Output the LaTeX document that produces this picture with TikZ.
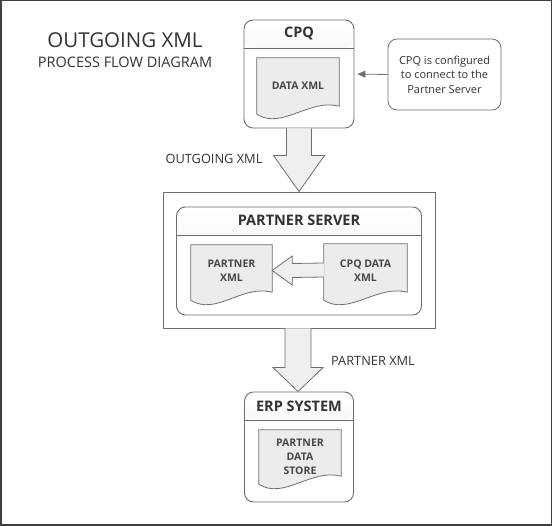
\documentclass[tikz,border=0pt]{standalone}
\usepackage{fontspec}
\setmainfont{Open Sans}
\usetikzlibrary{calc,arrows.meta}

\definecolor{textgray}{HTML}{333333}
\definecolor{linegray}{HTML}{6E6E6E}
\definecolor{docfill}{HTML}{ECECEC}
\definecolor{arrowfill}{HTML}{EFEFEF}

\tikzstyle{every node} = [text=textgray, inner sep=0pt, font=\fontsize{11}{14.5}\selectfont]
\tikzstyle{container} = [draw=linegray, line width=0.9pt, rounded corners=9pt, fill=white,
    path picture={
        \shade[top color=white, bottom color=black!9] (path picture bounding box.north west) rectangle ([yshift=-28pt]path picture bounding box.north east);
        \draw[linegray, line width=0.9pt] ([yshift=-28pt]path picture bounding box.north west) -- ([yshift=-28pt]path picture bounding box.north east);
    }]
\tikzstyle{boxtitle} = [font=\bfseries\fontsize{14.5}{17}\selectfont]
\tikzstyle{docbox} = [draw=none]
\tikzstyle{docline} = [draw=linegray, fill=docfill, line width=0.8pt]
\tikzstyle{doctext} = [text=black!72, font=\bfseries\fontsize{10.5}{14}\selectfont, align=center]
\tikzstyle{note} = [draw=linegray, line width=0.8pt, rounded corners=9pt, fill=white, align=center]
\tikzstyle{bigarrow} = [draw=linegray, fill=arrowfill, line width=0.8pt, line join=miter]
\tikzstyle{pointer} = [draw=linegray, line width=0.8pt, -{Triangle[length=8pt,width=7pt]}, shorten >=3pt]
\tikzstyle{flowlabel} = [font=\fontsize{12.8}{15}\selectfont]

% document sheet with a wavy lower edge
\newcommand{\docshape}[1]{%
    \draw[docline] (#1.south west) -- (#1.north west) -- (#1.north east) -- ($(#1.south east)+(0,-8)$)
        .. controls +(-30,-8) and +(25,16) .. (#1.south west) -- cycle;}

\begin{document}
\begin{tikzpicture}[x=1pt, y=-1pt]
    \useasboundingbox (0,0) rectangle (552,526);
    \draw[black!75, line width=1.5pt] (0.75,0.75) rectangle (551.25,525.25);

    % Heading
    \node[font=\fontsize{20.5}{24}\selectfont] (heading) at (125,40) {OUTGOING XML};
    \node[font=\fontsize{14.5}{17}\selectfont] (subheading) at (125,62) {PROCESS FLOW DIAGRAM};

    % CPQ
    \node[container, minimum width=110, minimum height=108] (cpq) at (299,74) {};
    \node[boxtitle] (cpqtitle) at ($(cpq.north)+(0,14)$) {CPQ};
    \node[docbox, minimum width=82, minimum height=56] (dataxml) at (298,86) {};
    \docshape{dataxml}
    \node[doctext] (dataxmltext) at (dataxml) {DATA XML};

    \node[note, minimum width=113, minimum height=71] (note) at (444.5,74.5) {CPQ is configured\\to connect to the\\Partner Server};
    \draw[pointer] (note.west) -- (cpq.east);

    % Partner server
    \node[draw=linegray, line width=0.9pt, minimum width=272, minimum height=136] (frame) at (299,260) {};
    \node[container, minimum width=245, minimum height=108] (server) at (299,261) {};
    \node[boxtitle] (servertitle) at ($(server.north)+(0,14)$) {PARTNER SERVER};

    \node[docbox, minimum width=81, minimum height=55] (pxml) at (231.5,272.5) {};
    \docshape{pxml}
    \node[doctext] (pxmltext) at ($(pxml)+(0,-1.5)$) {PARTNER\\XML};

    \node[docbox, minimum width=83, minimum height=56] (cpqxml) at (365.5,272) {};
    \docshape{cpqxml}
    \node[doctext] (cpqxmltext) at ($(cpqxml)+(0,-1)$) {CPQ DATA\\XML};

    \draw[bigarrow] ($(cpqxml.west)+(0,-9)$) -- ($(pxml.east)+(20,-9)$) -- ++(0,-7.5) -- ($(pxml.east)+(0,-2)$)
        -- ($(pxml.east)+(20,12.5)$) -- ++(0,-7.5) -- ($(cpqxml.west)+(0,5)$);

    % ERP system
    \node[container, minimum width=109, minimum height=110] (erp) at (299,447) {};
    \node[boxtitle] (erptitle) at ($(erp.north)+(0,14.5)$) {ERP SYSTEM};
    \node[docbox, minimum width=82, minimum height=54] (store) at (300,457) {};
    \docshape{store}
    \node[doctext] (storetext) at (store) {PARTNER\\DATA\\STORE};

    % Flow arrows
    \draw[bigarrow] ($(cpq.south)+(-12.5,0)$) -- ($(frame.north)+(-12.5,-36)$) -- ++(-13,0) -- (frame.north)
        -- ($(frame.north)+(25.5,-36)$) -- ++(-13,0) -- ($(cpq.south)+(12.5,0)$);
    \node[flowlabel] (outlabel) at (214,159) {OUTGOING XML};

    \draw[bigarrow] ($(frame.south)+(-14,0)$) -- ($(erp.north)+(-14,-24)$) -- ++(-12,0) -- ($(erp.north)+(-1,0)$)
        -- ($(erp.north)+(24,-24)$) -- ++(-12,0) -- ($(frame.south)+(12,0)$);
    \node[flowlabel] (partnerlabel) at (373,361) {PARTNER XML};
\end{tikzpicture}
\end{document}
